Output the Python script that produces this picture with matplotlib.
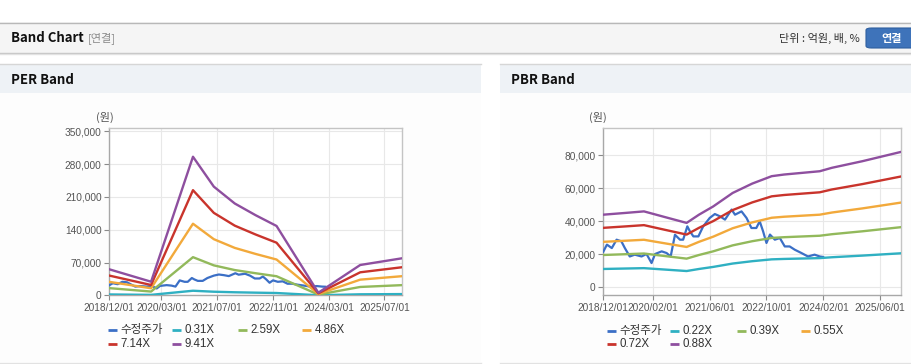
import matplotlib
matplotlib.use('Agg')
import matplotlib.pyplot as plt
from matplotlib.patches import Rectangle, FancyBboxPatch
from matplotlib.lines import Line2D
from matplotlib.ticker import FuncFormatter
import pandas as pd

plt.rcParams['font.family'] = ['Liberation Sans', 'Noto Sans CJK KR', 'DejaVu Sans']

W, H = 912, 364

# ---------------- data ----------------
price_dates = ['2018-12-01', '2019-01-01', '2019-02-12', '2019-03-25', '2019-05-05', '2019-06-04',
               '2019-07-16', '2019-08-28', '2019-10-25', '2019-12-07', '2020-01-19', '2020-02-18',
               '2020-04-15', '2020-05-27', '2020-07-01', '2020-08-07', '2020-09-19', '2020-10-16',
               '2020-11-21', '2020-12-13', '2021-01-12', '2021-02-24', '2021-04-06', '2021-06-01',
               '2021-07-15', '2021-08-28', '2021-10-10', '2021-11-21', '2021-12-06', '2022-01-04',
               '2022-03-01', '2022-04-13', '2022-05-25', '2022-07-06', '2022-08-04', '2022-09-02',
               '2022-10-01', '2022-10-31', '2022-12-12', '2023-01-24', '2023-03-07', '2023-04-18',
               '2023-06-01', '2023-07-28', '2023-09-22', '2023-11-18', '2024-01-01', '2024-01-30']
price_values = [21500, 25800, 23700, 28800, 27800, 23700,
                18600, 19700, 18600, 20100, 14600, 20100,
                21700, 20700, 18600, 31800, 28800, 28800,
                36900, 33900, 30800, 30800, 36900, 42000,
                44400, 43000, 41000, 45500, 47100, 44000,
                46000, 42000, 35900, 35900, 40000, 33900,
                26800, 31900, 28800, 29800, 24700, 24700,
                22700, 20700, 18600, 19700, 18600, 18300]

per_dates = ['2018-12-01', '2019-12-01', '2020-12-01', '2021-06-01', '2021-12-01',
             '2022-06-01', '2022-12-01', '2023-12-01', '2024-12-01', '2025-12-01']
per_labels = ['0.31X', '2.59X', '4.86X', '7.14X', '9.41X']
per_031 = [1830, 955, 9740, 7640, 6460, 5630, 4880, 180, 2130, 2600]
per_259 = [15300, 8000, 81400, 63900, 53900, 47100, 40700, 1500, 17800, 21700]
per_486 = [28700, 15000, 152800, 119800, 101200, 88300, 76400, 2800, 33400, 40800]
per_714 = [42100, 22000, 224400, 176000, 148700, 129800, 112300, 4200, 49100, 59900]
per_941 = [55500, 29000, 295800, 232000, 196000, 171000, 148000, 5500, 64700, 79000]

pbr_dates = ['2018-12-01', '2019-06-15', '2019-11-15', '2020-05-15', '2020-11-15', '2021-03-01',
             '2021-07-01', '2021-12-15', '2022-06-01', '2022-11-15', '2023-03-01', '2024-01-01',
             '2024-04-15', '2025-01-01', '2025-12-01']
pbr_labels = ['0.22X', '0.39X', '0.55X', '0.72X', '0.88X']
pbr_022 = [11000, 11280, 11500, 10630, 9750, 11000, 12250, 14300, 15730, 16850, 17100, 17600, 18130, 19130, 20550]
pbr_039 = [19500, 19990, 20390, 18840, 17280, 19500, 21720, 25350, 27880, 29870, 30310, 31200, 32130, 33900, 36430]
pbr_055 = [27500, 28190, 28750, 26560, 24380, 27500, 30630, 35750, 39310, 42130, 42750, 44000, 45310, 47810, 51380]
pbr_072 = [36000, 36900, 37640, 34770, 31910, 36000, 40090, 46800, 51460, 55150, 55960, 57600, 59320, 62590, 67250]
pbr_088 = [44000, 45100, 46000, 42500, 39000, 44000, 49000, 57200, 62900, 67400, 68400, 70400, 72500, 76500, 82200]

per_xticklabels = ['2018/12/01', '2020/03/01', '2021/07/01', '2022/11/01', '2024/03/01', '2025/07/01']
pbr_xticklabels = ['2018/12/01', '2020/02/01', '2021/06/01', '2022/10/01', '2024/02/01', '2025/06/01']
per_yticks = [0, 70000, 140000, 210000, 280000, 350000]
pbr_yticks = [0, 20000, 40000, 60000, 80000]

price_label = '수정주가'
colors = ['#3b6fc6', '#2fb0c2', '#92b95b', '#f2a93b', '#c9342c', '#8e4f9f']

# ---------------- figure ----------------
fig = plt.figure(figsize=(W / 100, H / 100), dpi=100)
fig.patch.set_facecolor('white')


def fx(px):
    return px / W


def fy(py):
    return 1 - py / H


def rect(x0, y0, x1, y1, fc, ec='none', lw=0, z=0):
    r = Rectangle((fx(x0), fy(y1)), fx(x1) - fx(x0), fy(y0) - fy(y1),
                  transform=fig.transFigure, facecolor=fc, edgecolor=ec, lw=lw, zorder=z)
    fig.add_artist(r)


def hline(x0, x1, y, color, lw=1.0):
    fig.add_artist(Line2D([fx(x0), fx(x1)], [fy(y), fy(y)], transform=fig.transFigure,
                          color=color, lw=lw, zorder=1))


# top bar
rect(0, 22, 912, 53, '#f5f5f5')
hline(0, 912, 22.5, '#b8b8b8', 1.0)
hline(0, 912, 52.5, '#c4c4c4', 1.0)
hline(0, 912, 53.8, '#e2e2e2', 1.0)
fig.text(fx(11), fy(38), 'Band Chart', fontsize=9.5, fontweight='bold', family=['Noto Sans CJK KR'],
         color='#111111', va='center', ha='left')
fig.text(fx(88), fy(38.5), '[연결]', fontsize=8, family=['Noto Sans CJK KR'], color='#8a8a8a',
         va='center', ha='left')
fig.text(fx(860), fy(38.5), '단위 : 억원, 배, %', fontsize=8, family=['Noto Sans CJK KR'],
         color='#333333', va='center', ha='right')
btn = FancyBboxPatch((fx(866), fy(48)), fx(60), fy(28) - fy(48),
                     boxstyle='round,pad=0,rounding_size=0.006', transform=fig.transFigure,
                     facecolor='#3e73ba', edgecolor='#2f5f9f', lw=0.8, zorder=2)
fig.add_artist(btn)
fig.text(fx(891.5), fy(38.5), '연결', fontsize=8, fontweight='bold', family=['Noto Sans CJK KR'],
         color='white', va='center', ha='center', zorder=3)

# panels
for (x0, x1, title) in [(0, 481, 'PER Band'), (500, 912, 'PBR Band')]:
    rect(x0, 64, x1, 93, '#eef2f6')
    rect(x0, 93, x1, 362, '#fdfdfd')
    hline(x0, x1, 64, '#d6d6d6', 1.0)
    hline(x0, x1, 362.5, '#e2e2e2', 1.0)
    fig.text(fx(x0 + 11), fy(80), title, fontsize=9.5, fontweight='bold', family=['Noto Sans CJK KR'],
             color='#111111', va='center', ha='left')


def setup_axes(ax, xticklabels, yticks, ylim, dates_end):
    ticks = pd.to_datetime(xticklabels, format='%Y/%m/%d')
    ax.set_facecolor('white')
    ax.set_xlim(pd.Timestamp('2018-12-01'), pd.Timestamp(dates_end))
    ax.set_ylim(*ylim)
    ax.set_xticks(ticks)
    ax.set_xticklabels(xticklabels)
    ax.set_yticks(yticks)
    ax.yaxis.set_major_formatter(FuncFormatter(lambda v, p: f'{v:,.0f}'))
    ax.grid(True, color='#e8e8e8', lw=0.8, zorder=0)
    ax.set_axisbelow(True)
    ax.tick_params(axis='both', labelsize=7.3, colors='#8a8a8a', labelcolor='#555555',
                   length=3.5, width=0.8, pad=2)
    for s in ['left', 'bottom']:
        ax.spines[s].set_color('#a8a8a8')
        ax.spines[s].set_linewidth(1.0)
    for s in ['top', 'right']:
        ax.spines[s].set_color('#c4c4c4')
        ax.spines[s].set_linewidth(1.0)


price_dt = pd.to_datetime(price_dates)

# PER axes
ax1 = fig.add_axes([fx(109.3), fy(295.3), fx(402) - fx(109.3), fy(128.3) - fy(295.3)])
setup_axes(ax1, per_xticklabels, per_yticks, (0, 356500), '2025-12-01')
per_dt = pd.to_datetime(per_dates)
ax1.plot(price_dt, price_values, color=colors[0], lw=1.6, zorder=3)
for i, series in enumerate([per_031, per_259, per_486, per_714, per_941]):
    ax1.plot(per_dt, series, color=colors[i + 1], lw=1.7, zorder=3, solid_joinstyle='round')

# PBR axes
ax2 = fig.add_axes([fx(603.3), fy(295.3), fx(901.3) - fx(603.3), fy(128.3) - fy(295.3)])
setup_axes(ax2, pbr_xticklabels, pbr_yticks, (-5000, 96500), '2025-12-01')
pbr_dt = pd.to_datetime(pbr_dates)
ax2.plot(price_dt, price_values, color=colors[0], lw=1.6, zorder=3)
for i, series in enumerate([pbr_022, pbr_039, pbr_055, pbr_072, pbr_088]):
    ax2.plot(pbr_dt, series, color=colors[i + 1], lw=1.7, zorder=3, solid_joinstyle='round')

# (원) labels
fig.text(fx(105), fy(117), '(원)', fontsize=8, family=['Noto Sans CJK KR'], color='#555555',
         ha='center', va='center')
fig.text(fx(598), fy(117), '(원)', fontsize=8, family=['Noto Sans CJK KR'], color='#555555',
         ha='center', va='center')


# legends (manual placement)
def legend(items, col_x, rows_y):
    pos = [(col_x[0], rows_y[0]), (col_x[1], rows_y[0]), (col_x[2], rows_y[0]), (col_x[3], rows_y[0]),
           (col_x[0], rows_y[1]), (col_x[1], rows_y[1])]
    for (label, color), (x, y) in zip(items, pos):
        fig.add_artist(Line2D([fx(x), fx(x + 9)], [fy(y), fy(y)], transform=fig.transFigure,
                              color=color, lw=2.0, solid_capstyle='butt'))
        fig.text(fx(x + 12.5), fy(y), label, fontsize=8.3, color='#333333', ha='left', va='center',
                 family=['Liberation Sans', 'Noto Sans CJK KR'])


legend(list(zip([price_label] + per_labels, colors)), [108, 172, 238, 302], [330, 344])
legend(list(zip([price_label] + pbr_labels, colors)), [607, 670, 737, 801], [331, 344])

fig.savefig('out.png', dpi=100)
